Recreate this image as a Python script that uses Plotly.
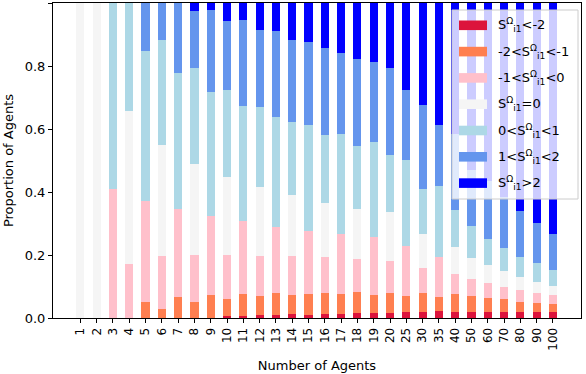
import plotly.graph_objects as go

# Group sizes (x categories)
agents = ["1", "2", "3", "4", "5", "6", "7", "8", "9", "10", "11", "12", "13", "14", "15",
          "16", "17", "18", "19", "20", "25", "30", "35", "40", "50", "60", "70", "80", "90", "100"]

# Proportion of agents falling in each S range, per group size
lt_m2 = [0, 0, 0, 0, 0, 0, 0, 0, 0, .007, .005, .009, .008, .012, .010,
         .012, .012, .015, .015, .016, .018, .018, .022, .020, .020, .020, .020, .018, .018, .018]
m2_m1 = [0, 0, 0, 0, .051, .029, .066, .050, .074, .053, .070, .060, .070, .062, .066,
         .066, .063, .066, .059, .064, .051, .062, .044, .056, .051, .044, .040, .034, .031, .026]
m1_0 = [0, 0, .41, .17, .320, .168, .279, .151, .251, .141, .232, .129, .212, .123, .201,
        .115, .191, .105, .182, .101, .159, .080, .129, .065, .054, .046, .039, .037, .031, .028]
eq_0 = [1, 1, 0, .486, 0, .353, 0, .289, 0, .247, 0, .219, 0, .192, 0,
        .173, 0, .159, 0, .157, 0, .106, 0, .084, .067, .058, .051, .040, .035, .031]
p0_1 = [0, 0, .59, .344, .478, .333, .433, .303, .394, .276, .367, .252, .347, .234, .335,
        .216, .318, .202, .304, .179, .274, .144, .225, .117, .099, .083, .072, .065, .060, .050]
p1_2 = [0, 0, 0, 0, .151, .117, .222, .181, .259, .220, .272, .246, .273, .261, .264,
        .274, .258, .275, .252, .276, .222, .266, .192, .243, .180, .184, .163, .147, .127, .115]
gt_2 = [0, 0, 0, 0, 0, 0, 0, .026, .022, .056, .054, .085, .090, .116, .124,
        .144, .158, .178, .188, .207, .276, .324, .388, .415, .529, .565, .615, .659, .698, .732]

S = "S<sup>Ω</sup><sub>i1</sub>"
labels = [f"{S}<-2", f"-2<{S}<-1", f"-1<{S}<0", f"{S}=0", f"0<{S}<1", f"1<{S}<2", f"{S}>2"]
values = [lt_m2, m2_m1, m1_0, eq_0, p0_1, p1_2, gt_2]
colors = ["#DC143C", "#FF7F50", "#FFC0CB", "#F5F5F5", "#ADD8E6", "#6495ED", "#0000FF"]

W, H = 586, 374
ML, MR, MT, MB = 53, 5, 3, 56
PW, PH = W - ML - MR, H - MT - MB


def px(xp):
    """Pixel column -> paper x."""
    return (xp - ML) / PW


def py(yp):
    """Pixel row -> paper y."""
    return (H - MB - yp) / PH


fig = go.Figure()
for name, vals, color in zip(labels, values, colors):
    fig.add_trace(go.Bar(x=agents, y=vals, name=name, showlegend=False,
                         marker=dict(color=color, line=dict(width=0))))

# Boxed legend with wide colour patches, drawn over the bars
shapes = [dict(type="rect", xref="paper", yref="paper", layer="above",
               x0=px(452), x1=px(578), y0=py(199), y1=py(10),
               fillcolor="rgba(255,255,255,0.8)",
               line=dict(color="#cccccc", width=1))]
annotations = []
for k, (name, color) in enumerate(zip(labels, colors)):
    yc = 25.3 + 26.3 * k
    shapes.append(dict(type="rect", xref="paper", yref="paper", layer="above",
                       x0=px(459), x1=px(487), y0=py(yc + 4.8), y1=py(yc - 4.8),
                       fillcolor=color, line=dict(width=0)))
    annotations.append(dict(text=name, xref="paper", yref="paper",
                            x=px(496), y=py(yc), xanchor="left", yanchor="middle",
                            showarrow=False,
                            font=dict(family="DejaVu Sans", size=13, color="black")))

font = dict(family="DejaVu Sans", size=13, color="black")
fig.update_layout(
    width=W, height=H,
    margin=dict(l=ML, r=MR, t=MT, b=MB, autoexpand=False),
    paper_bgcolor="white", plot_bgcolor="white",
    barmode="stack", bargap=0.5,
    font=font,
    shapes=shapes, annotations=annotations,
    xaxis=dict(type="category", range=[-1.68, 30.72],
               title=dict(text="Number of Agents", standoff=11, font=font),
               tickangle=-90, tickfont=dict(family="DejaVu Sans", size=12, color="black"),
               ticks="outside", ticklen=4, tickcolor="black",
               showline=True, linecolor="black", linewidth=1, mirror=True,
               showgrid=False, automargin=False),
    yaxis=dict(range=[0, 1], tickvals=[0, .2, .4, .6, .8, 1.0], tickformat=".1f",
               tickfont=dict(family="DejaVu Sans", size=13, color="black"),
               title=dict(text="Proportion of Agents", standoff=8, font=font),
               ticks="outside", ticklen=4, tickcolor="black",
               showline=True, linecolor="black", linewidth=1, mirror=True,
               showgrid=False, zeroline=False, automargin=False),
)

fig.write_html("out.html")
